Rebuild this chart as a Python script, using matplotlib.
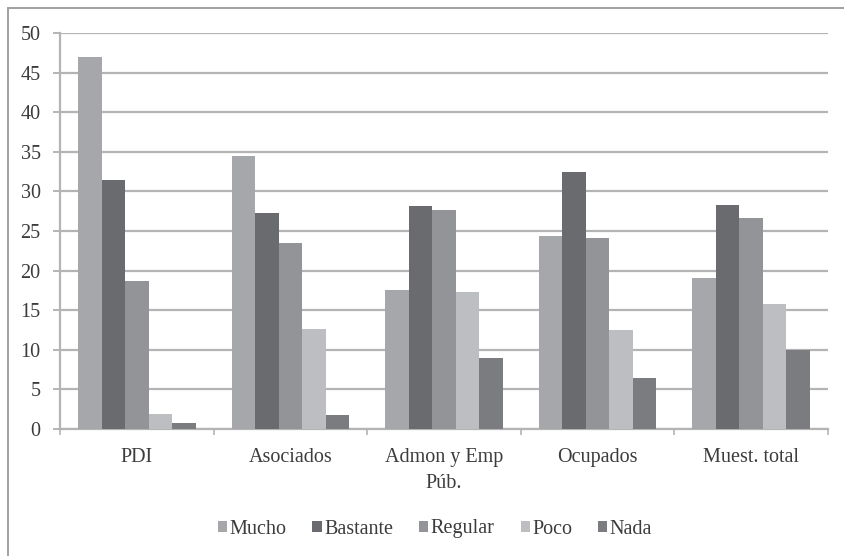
import numpy as np
import matplotlib
matplotlib.use("Agg")
import matplotlib.pyplot as plt
import matplotlib.patches as mpatches
from matplotlib.legend_handler import HandlerPatch

# Survey answers by group (percent)
groups = ["PDI", "Asociados", "Admon y Emp\nPúb.", "Ocupados", "Muest. total"]
answers = ["Mucho", "Bastante", "Regular", "Poco", "Nada"]
mucho = [47.0, 34.5, 17.6, 24.4, 19.1]
bastante = [31.5, 27.3, 28.1, 32.5, 28.3]
regular = [18.7, 23.5, 27.7, 24.1, 26.7]
poco = [1.9, 12.6, 17.3, 12.5, 15.8]
nada = [0.7, 1.8, 9.0, 6.4, 10.0]
series = [mucho, bastante, regular, poco, nada]
colors = ["#a5a7aa", "#6a6b6f", "#939498", "#bdbec1", "#7b7c80"]

plt.rcParams["font.family"] = ["Liberation Serif", "DejaVu Serif"]
text_color = "#3c3c3c"
grid_color = "#b4b4b4"

fig = plt.figure(figsize=(8.44, 5.56), dpi=100)
ax = fig.add_axes([60 / 844, 127 / 556, 768 / 844, 396 / 556])

# outer chart frame (cut off on the right and bottom)
frame = mpatches.Rectangle((8 / 844, -0.05), 1.2, 1.05 - 8 / 556,
                           transform=fig.transFigure, fill=False,
                           edgecolor="#a0a0a0", linewidth=1.4)
fig.patches.append(frame)

x = np.arange(len(groups))
w = 0.153
for j, (vals, col, name) in enumerate(zip(series, colors, answers)):
    ax.bar(x + (j - 2) * w, vals, width=w, color=col, label=name, zorder=3)

ax.set_xlim(-0.5, len(groups) - 0.5)
ax.set_ylim(0, 50)
ax.set_yticks(np.arange(0, 51, 5))
ax.yaxis.grid(True, color=grid_color, linewidth=1.6, zorder=0)
ax.set_axisbelow(True)

ax.set_xticks(x)
ax.set_xticklabels(groups, fontsize=14.5, color=text_color)
for lbl in ax.get_xticklabels():
    lbl.set_linespacing(1.45)
ax.set_xticks(np.arange(-0.5, len(groups)), minor=True)
ax.tick_params(axis="x", which="major", length=0, pad=14)
ax.tick_params(axis="x", which="minor", length=4, width=1.2, color=grid_color, direction="out")
ax.tick_params(axis="y", length=5, width=1.4, color=grid_color, labelsize=14.5,
               labelcolor=text_color, pad=9)

for side in ["top", "right"]:
    ax.spines[side].set_visible(False)
for side in ["left", "bottom"]:
    ax.spines[side].set_color(grid_color)
    ax.spines[side].set_linewidth(1.6)


def raised_square(legend, orig_handle, xdescent, ydescent, width, height, fontsize):
    return mpatches.Rectangle((-xdescent, -ydescent + 0.22 * fontsize), width, height)


handles, labels = ax.get_legend_handles_labels()
fig.legend(handles, labels, loc="center", bbox_to_anchor=(435 / 844, 1 - 529 / 556),
           ncol=5, frameon=False, fontsize=14.5, handlelength=0.45, handleheight=0.45,
           handletextpad=0.12, columnspacing=1.3, labelcolor=text_color,
           handler_map={mpatches.Rectangle: HandlerPatch(patch_func=raised_square)})

fig.savefig("out.png", dpi=100)
